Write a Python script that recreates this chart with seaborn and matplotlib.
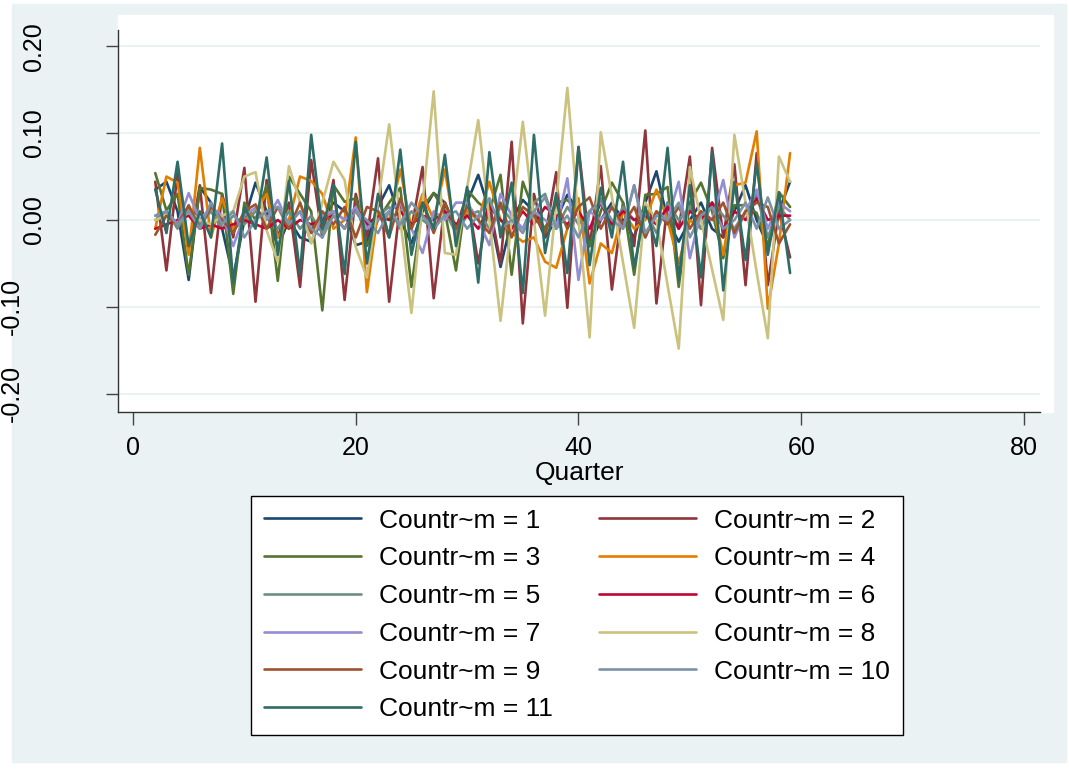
import matplotlib
matplotlib.use('Agg')
import matplotlib.pyplot as plt
import pandas as pd
import seaborn as sns
from matplotlib import transforms
from matplotlib.patches import Rectangle

quarters = list(range(2, 60))

c1 = [0.035, 0.044, 0.010, -0.069, 0.038, 0.020, -0.010, -0.066, 0.000, 0.043,
      0.010, -0.031, 0.000, -0.020, -0.025, 0.000, 0.020, 0.010, -0.029, -0.025,
      0.015, 0.040, 0.000, -0.027, 0.010, 0.031, 0.020, -0.010, 0.020, 0.052,
      0.010, -0.054, 0.000, 0.023, 0.010, -0.020, 0.000, 0.029, 0.010, -0.030,
      0.000, 0.020, 0.000, -0.020, 0.020, 0.056, 0.000, -0.025, 0.000, 0.020,
      -0.010, -0.020, 0.010, 0.040, 0.000, -0.030, 0.010, 0.044]
c2 = [0.044, -0.058, 0.054, -0.035, 0.040, -0.084, 0.030, -0.020, 0.060, -0.094,
      0.046, -0.020, 0.020, -0.077, 0.069, -0.020, 0.046, -0.092, 0.030, -0.020,
      0.071, -0.094, 0.020, -0.010, 0.061, -0.090, 0.020, -0.010, 0.030, -0.050,
      0.020, -0.050, 0.090, -0.119, 0.030, -0.020, 0.055, -0.101, 0.084, -0.030,
      0.062, -0.080, 0.020, -0.030, 0.103, -0.096, 0.020, -0.010, 0.073, -0.098,
      0.083, -0.020, 0.064, -0.075, 0.077, -0.075, 0.010, -0.043]
c3 = [0.054, 0.011, 0.030, -0.063, 0.037, 0.035, 0.030, -0.085, 0.020, 0.000,
      0.040, -0.070, 0.050, 0.030, 0.010, -0.104, 0.040, 0.021, 0.025, -0.030,
      0.000, 0.020, 0.037, -0.077, 0.015, 0.031, 0.010, -0.058, 0.035, 0.020,
      0.010, 0.052, -0.063, 0.044, 0.010, -0.010, 0.020, 0.023, 0.010, -0.030,
      0.010, 0.043, 0.020, -0.063, 0.029, 0.030, 0.038, -0.077, 0.020, 0.043,
      0.010, -0.044, 0.017, 0.017, 0.008, -0.030, 0.032, 0.015]
c4 = [-0.010, 0.050, 0.043, -0.040, 0.083, -0.020, 0.025, -0.010, 0.000, 0.010,
      0.030, -0.020, 0.000, 0.050, 0.045, 0.030, -0.010, 0.000, 0.095, -0.083,
      0.010, 0.000, 0.058, -0.010, 0.030, 0.000, 0.058, -0.020, 0.010, 0.000,
      0.044, 0.000, -0.015, -0.025, -0.020, -0.048, -0.055, -0.010, 0.025, -0.073,
      -0.027, -0.038, 0.010, -0.010, 0.000, 0.035, 0.000, -0.050, 0.000, -0.010,
      0.020, -0.040, 0.040, 0.043, 0.102, -0.102, -0.027, 0.077]
c5 = [0.000, 0.010, -0.010, 0.015, -0.005, 0.010, -0.010, 0.005, -0.005, 0.010,
      0.005, -0.010, 0.010, -0.010, 0.005, -0.015, 0.010, 0.000, 0.010, -0.010,
      0.005, 0.015, -0.010, 0.010, 0.000, -0.010, 0.010, -0.015, 0.005, 0.010,
      -0.010, 0.015, 0.000, -0.010, 0.020, 0.030, -0.010, 0.015, -0.005, 0.010,
      0.025, -0.010, 0.015, 0.000, 0.010, -0.015, 0.020, 0.000, 0.015, -0.010,
      0.020, 0.005, -0.010, 0.010, 0.030, -0.020, 0.015, 0.000]
c6 = [-0.010, -0.005, 0.000, 0.005, -0.010, -0.005, -0.010, -0.005, 0.000, -0.005,
      -0.010, 0.000, -0.010, 0.000, -0.005, 0.000, 0.005, -0.010, 0.015, -0.005,
      0.005, 0.000, 0.010, -0.005, 0.005, 0.000, 0.010, -0.005, 0.005, -0.010,
      0.015, 0.000, -0.010, 0.010, -0.005, 0.015, 0.005, -0.005, 0.010, -0.010,
      0.020, -0.005, 0.010, 0.000, 0.005, -0.005, 0.015, -0.010, 0.010, 0.000,
      0.020, -0.010, 0.010, 0.000, 0.025, 0.000, 0.005, 0.005]
c7 = [0.005, 0.010, -0.005, 0.031, 0.000, 0.015, 0.005, -0.030, 0.005, 0.014,
      0.000, 0.023, -0.005, 0.010, -0.026, 0.005, 0.010, 0.000, 0.015, -0.010,
      0.000, 0.010, 0.020, -0.010, -0.038, 0.010, 0.000, 0.020, 0.020, 0.000,
      -0.029, 0.030, 0.005, -0.010, 0.010, 0.000, -0.010, 0.048, -0.069, 0.010,
      0.000, 0.015, -0.010, 0.040, -0.020, 0.010, 0.000, 0.044, -0.044, 0.010,
      0.000, 0.046, -0.020, 0.010, 0.035, -0.010, 0.020, 0.010]
c8 = [0.000, 0.005, -0.005, 0.010, 0.000, -0.005, 0.005, 0.010, 0.050, 0.055,
      -0.012, -0.048, 0.062, 0.020, -0.027, 0.020, 0.067, 0.046, -0.031, -0.066,
      0.020, 0.110, 0.000, -0.107, 0.020, 0.148, -0.038, -0.040, 0.037, 0.115,
      0.000, -0.116, 0.000, 0.113, 0.000, -0.110, 0.020, 0.152, 0.000, -0.135,
      0.101, 0.027, -0.049, -0.124, 0.020, 0.000, -0.075, -0.148, 0.061, 0.000,
      -0.057, -0.115, 0.098, 0.020, -0.060, -0.136, 0.073, 0.044]
c9 = [-0.017, 0.005, -0.005, 0.017, -0.010, 0.015, 0.000, -0.015, 0.010, 0.018,
      -0.010, 0.015, -0.010, 0.020, -0.015, 0.010, -0.005, 0.015, -0.020, 0.015,
      0.010, -0.020, 0.025, -0.010, 0.020, -0.015, 0.020, -0.010, 0.015, 0.000,
      -0.015, 0.020, -0.020, 0.015, 0.005, -0.015, 0.020, -0.010, 0.015, 0.026,
      -0.010, 0.015, -0.005, 0.015, -0.020, 0.010, -0.005, 0.015, -0.010, 0.010,
      0.000, 0.020, -0.015, 0.010, 0.020, 0.015, -0.027, -0.005]
c10 = [0.005, 0.010, -0.005, 0.010, -0.010, 0.020, -0.005, 0.010, -0.020, 0.000,
       0.010, 0.015, -0.005, 0.010, -0.010, -0.020, 0.005, -0.010, 0.010, 0.000,
       -0.015, 0.010, -0.005, 0.020, 0.005, -0.010, 0.005, 0.010, -0.010, 0.005,
       0.025, -0.010, 0.000, -0.015, 0.010, 0.026, -0.010, 0.005, -0.020, 0.010,
       0.020, 0.000, -0.010, 0.040, -0.015, 0.005, 0.000, 0.020, -0.020, 0.005,
       0.015, -0.010, 0.000, 0.020, -0.010, 0.026, -0.010, 0.000]
c11 = [0.035, -0.015, 0.067, -0.030, 0.010, -0.020, 0.088, -0.072, 0.015, -0.010,
       0.072, -0.040, 0.045, -0.062, 0.098, -0.010, 0.040, -0.062, 0.090, -0.050,
       0.030, -0.020, 0.081, -0.040, 0.020, -0.010, 0.075, -0.030, 0.038, -0.072,
       0.078, -0.020, 0.043, -0.084, 0.098, -0.038, 0.031, -0.061, 0.084, -0.052,
       0.037, -0.020, 0.067, -0.055, 0.015, -0.030, 0.083, -0.069, 0.040, -0.066,
       0.078, -0.081, 0.044, -0.046, 0.066, -0.040, 0.032, -0.061]

series = [c1, c2, c3, c4, c5, c6, c7, c8, c9, c10, c11]
labels = [f'Countr~m = {i}' for i in range(1, 12)]
colors = ['#1a476f', '#90353b', '#55752f', '#e37e00', '#6e8e84', '#c10534',
          '#938dd2', '#cac27e', '#a0522d', '#7b92a8', '#2d6d66']

yticks = [-0.2, -0.1, 0.0, 0.1, 0.2]
xticks = [0, 20, 40, 60, 80]

df = pd.DataFrame({
    'Quarter': quarters * len(series),
    'value': [v for s in series for v in s],
    'country': [lab for lab in labels for _ in quarters],
})

sns.set_theme(style='white')
plt.rcParams['font.family'] = ['Liberation Sans', 'DejaVu Sans']
plt.rcParams['text.color'] = 'black'
plt.rcParams['axes.labelcolor'] = 'black'
plt.rcParams['xtick.color'] = 'black'

W, H = 1069, 771
fig = plt.figure(figsize=(W / 100, H / 100), dpi=100, facecolor='white')
# light blue graph region and white plot region behind the axes
fig.patches.append(Rectangle((12 / W, 1 - 762 / H), (1066 - 12) / W, (762 - 4) / H,
                             transform=fig.transFigure, color='#eaf2f3', zorder=-10))
fig.patches.append(Rectangle((118 / W, 1 - 412 / H), (1053 - 118) / W, (412 - 15) / H,
                             transform=fig.transFigure, color='white', zorder=-9))

ax = fig.add_axes([118 / W, 1 - 412 / H, (1040 - 118) / W, (412 - 30) / H])
ax.set_facecolor('white')
ax.patch.set_alpha(0)

for v in yticks:
    ax.axhline(v, color='#eaf2f3', lw=1.5, zorder=0)

sns.lineplot(data=df, x='Quarter', y='value', hue='country', hue_order=labels,
             palette=colors, lw=1.9, estimator=None, sort=False, ax=ax)

ax.set_xlim(-1.347, 81.44)
ax.set_ylim(-0.2209, 0.2186)
ax.set_xticks(xticks)
ax.set_yticks(yticks)
ax.set_yticklabels([])
ax.tick_params(axis='both', length=9, width=1, color='#444444', direction='out')
ax.tick_params(axis='x', labelsize=18, pad=8, labelcolor='black')
ax.tick_params(axis='y', left=True)
ax.tick_params(axis='x', bottom=True)
for side in ['top', 'right']:
    ax.spines[side].set_visible(False)
for side in ['left', 'bottom']:
    ax.spines[side].set_color('#333333')
    ax.spines[side].set_linewidth(1.0)
ax.set_xlabel('Quarter', fontsize=19, labelpad=1, color='black')
ax.set_ylabel('')

trans = transforms.blended_transform_factory(fig.transFigure, ax.transData)
for v in yticks:
    xpos = 34 if v >= 0 else 12
    ax.text(xpos / W, v, f'{v:.2f}', rotation=90, ha='center', va='center',
            fontsize=18, color='black', transform=trans, clip_on=False)

handles, labs = ax.get_legend_handles_labels()
ax.get_legend().remove()
order = [0, 2, 4, 6, 8, 10, 1, 3, 5, 7, 9]
leg = fig.legend([handles[i] for i in order], [labs[i] for i in order], ncol=2,
                 loc='center', bbox_to_anchor=(577 / W, 1 - 615 / H),
                 frameon=True, fancybox=False, edgecolor='black', facecolor='white',
                 framealpha=1, fontsize=19, handlelength=3.67, handletextpad=0.68,
                 columnspacing=1.78, labelspacing=0.52, borderpad=0.5,
                 labelcolor='black')
leg.get_frame().set_linewidth(1.0)

fig.savefig('out.png', dpi=100, facecolor=fig.get_facecolor())
